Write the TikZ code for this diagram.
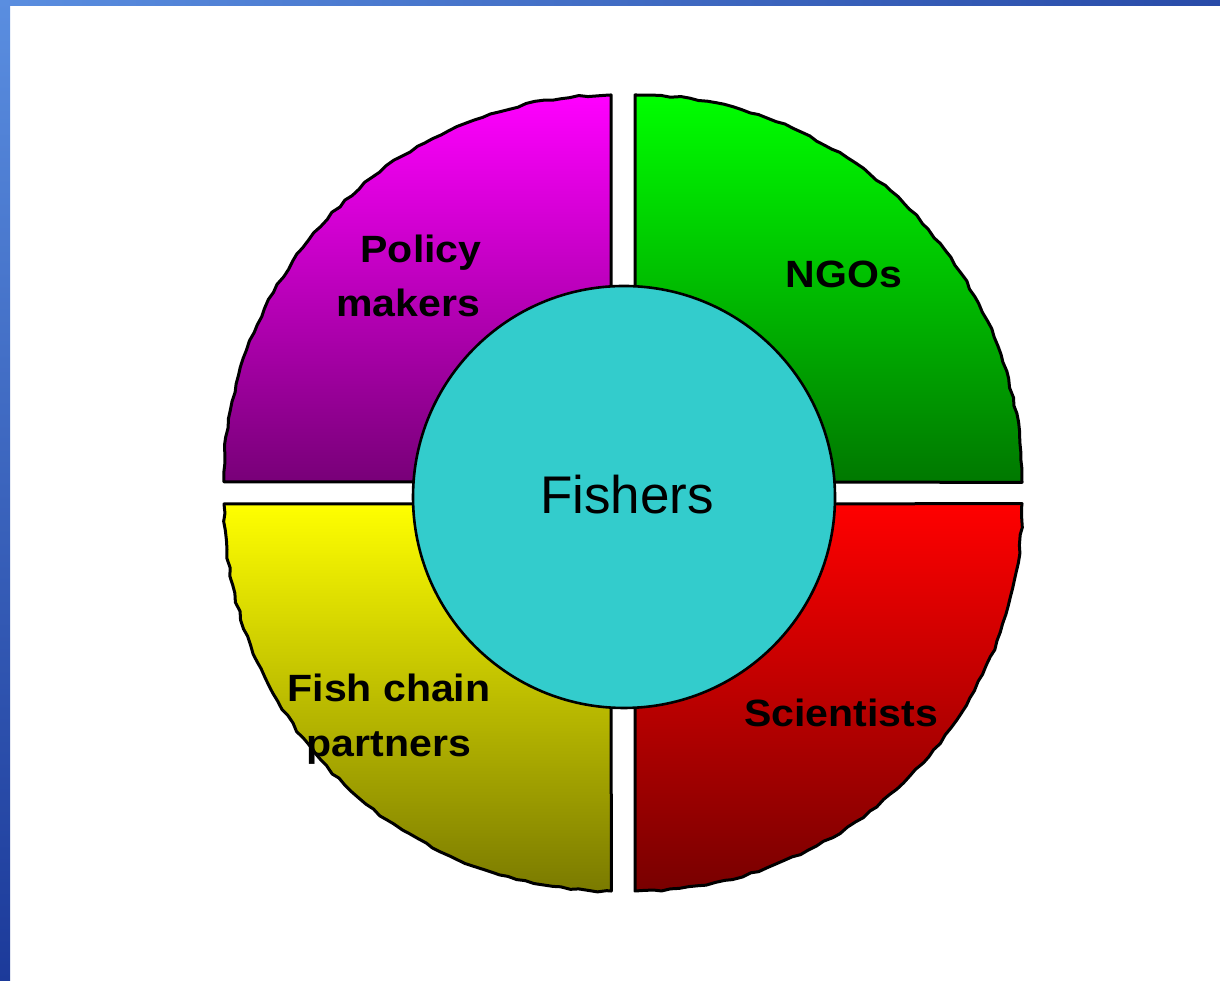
\documentclass[tikz,border=0pt]{standalone}
\usepackage{fontspec}
\setmainfont{Liberation Sans}
\newfontfamily\labfont[FakeStretch=1.08]{Liberation Sans}
\usetikzlibrary{decorations.pathmorphing}
\definecolor{magtop}{HTML}{FF00FF}
\definecolor{magbot}{HTML}{780078}
\definecolor{grntop}{HTML}{00FF00}
\definecolor{grnbot}{HTML}{007800}
\definecolor{yeltop}{HTML}{FFFF00}
\definecolor{yelbot}{HTML}{7A7A00}
\definecolor{redtop}{HTML}{FF0000}
\definecolor{redbot}{HTML}{780000}
\definecolor{hub}{HTML}{33CCCC}
\definecolor{edgetop}{HTML}{5A8EE0}
\definecolor{edgebot}{HTML}{1C3A9A}
\tikzset{
  quad/.style={draw=black, line width=3pt, line join=round},
  wavy/.style={decorate, decoration={random steps, segment length=9pt, amplitude=1.1pt}},
  lab/.style={font=\labfont\bfseries\fontsize{38}{38}\selectfont, anchor=base, inner sep=0pt},
  hubtext/.style={font=\fontsize{53}{53}\selectfont, anchor=base, inner sep=0pt}
}
\begin{document}
\begin{tikzpicture}[x=1pt,y=1pt]
\pgfmathsetseed{7}
\useasboundingbox (0,0) rectangle (1220,981);
\fill[white] (0,0) rectangle (1220,981);
% slide frame strips
\shade[top color=edgetop, bottom color=edgebot] (0,0) rectangle (10,981);
\shade[left color=edgetop, right color=edgebot!80!edgetop] (0,975) rectangle (1220,981);
% quadrants
\path[quad, top color=magtop, bottom color=magbot]
  (611,886) -- (611,499) -- (224,499)
  decorate[wavy]{ arc[start angle=180, end angle=90, radius=387] } -- cycle;
\path[quad, top color=grntop, bottom color=grnbot]
  (635,499) -- (635,886)
  decorate[wavy]{ arc[start angle=90, end angle=0, radius=387] } -- cycle;
\path[quad, top color=yeltop, bottom color=yelbot]
  (611,477) -- (224,477)
  decorate[wavy]{ arc[start angle=180, end angle=270, radius=387] } -- cycle;
\path[quad, top color=redtop, bottom color=redbot]
  (635,477) -- (635,90)
  decorate[wavy]{ arc[start angle=270, end angle=360, radius=387] } -- cycle;
% hub
\node[circle, draw=black, line width=2.6pt, fill=hub, minimum size=422pt, inner sep=0pt] (fishers) at (624,484) {};
\node[hubtext] (fisherstext) at (627,467) {Fishers};
% labels
\node[lab] (policy) at (421,718) {Policy};
\node[lab] (makers) at (408,664) {makers};
\node[lab] (ngos) at (844,693) {NGOs};
\node[lab] (fishchain) at (389,279) {Fish chain};
\node[lab] (partners) at (389,224) {partners};
\node[lab] (scientists) at (841,254) {Scientists};
\end{tikzpicture}
\end{document}
